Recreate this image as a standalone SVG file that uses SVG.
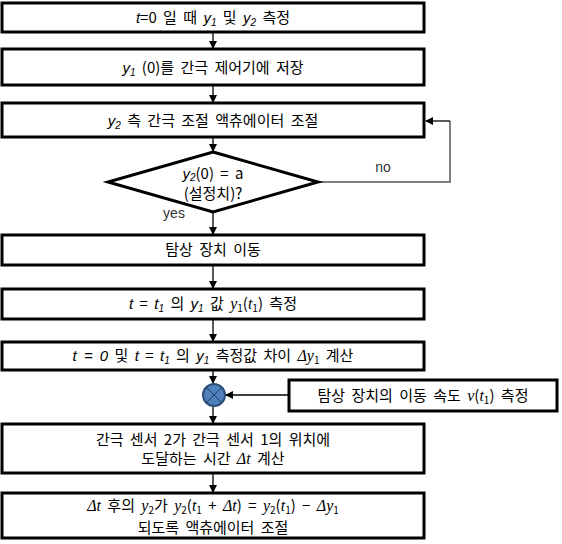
<svg xmlns="http://www.w3.org/2000/svg" width="562" height="544" viewBox="0 0 562 544">
<style>
.box{fill:#fff;stroke:#000;stroke-width:3}
.t{font-family:"Noto Sans CJK KR","Liberation Sans",sans-serif;font-size:15px;fill:#000;text-anchor:middle;word-spacing:3px}
.m{font-family:"Liberation Serif","DejaVu Serif",serif;font-style:italic;font-size:16px}
.mi{font-family:"Liberation Sans",sans-serif;font-style:italic}
.s{font-size:10px}
.c{fill:none;stroke:#000;stroke-width:1.3}
.lbl{font-family:"Liberation Sans",sans-serif;font-size:14px;fill:#333;text-anchor:middle}
</style>
<defs>
<marker id="ah" markerWidth="8" markerHeight="8" refX="7" refY="4" orient="auto" markerUnits="userSpaceOnUse">
<path d="M0,0 L8,4 L0,8 z" fill="#000"/>
</marker>
</defs>
<g id="connectors">
<line class="c" x1="213" y1="32" x2="213" y2="48" marker-end="url(#ah)"/>
<line class="c" x1="213" y1="85" x2="213" y2="102" marker-end="url(#ah)"/>
<line class="c" x1="213" y1="137" x2="213" y2="151" marker-end="url(#ah)"/>
<line class="c" x1="213" y1="212" x2="213" y2="234" marker-end="url(#ah)"/>
<line class="c" x1="213" y1="265" x2="213" y2="288" marker-end="url(#ah)"/>
<line class="c" x1="213" y1="319" x2="213" y2="341" marker-end="url(#ah)"/>
<line class="c" x1="213" y1="370" x2="213" y2="383" marker-end="url(#ah)"/>
<line class="c" x1="213" y1="407" x2="213" y2="423" marker-end="url(#ah)"/>
<line class="c" x1="213" y1="473" x2="213" y2="492" marker-end="url(#ah)"/>
<polyline points="318,182 450,182 450,121" fill="none" stroke="#555" stroke-width="1.5"/>
<line class="c" x1="450" y1="121" x2="426" y2="121" marker-end="url(#ah)"/>
<line class="c" x1="289" y1="395" x2="226" y2="395" marker-end="url(#ah)"/>
<text class="lbl" x="383" y="172">no</text>
<text class="lbl" x="174" y="218">yes</text>
</g>
<g id="n1">
<rect class="box" x="2" y="3" width="422" height="29"/>
<text class="t" x="213" y="23"><tspan class="mi">t</tspan>=0 일 때 <tspan class="mi">y</tspan><tspan class="mi s" baseline-shift="-3">1</tspan> 및 <tspan class="mi">y</tspan><tspan class="mi s" baseline-shift="-3">2</tspan> 측정</text>
</g>
<g id="n2">
<rect class="box" x="2" y="49" width="422" height="36"/>
<text class="t" x="213" y="73"><tspan class="mi">y</tspan><tspan class="mi s" baseline-shift="-3">1</tspan> (0)를 간극 제어기에 저장</text>
</g>
<g id="n3">
<rect class="box" x="2" y="103" width="422" height="34"/>
<text class="t" x="213" y="126"><tspan class="mi">y</tspan><tspan class="mi s" baseline-shift="-3">2</tspan>  측 간극 조절 액츄에이터 조절</text>
</g>
<g id="n4">
<polygon points="213,152 318,182 213,212 108,182" fill="#fff" stroke="#000" stroke-width="3"/>
<text class="t" x="213" y="179"><tspan class="mi">y</tspan><tspan class="mi s" baseline-shift="-2">2</tspan>(0) = a</text>
<text class="t" x="213" y="199">(설정치)?</text>
</g>
<g id="n5">
<rect class="box" x="2" y="235" width="422" height="30"/>
<text class="t" x="213" y="255">탐상 장치 이동</text>
</g>
<g id="n6">
<rect class="box" x="2" y="289" width="422" height="30"/>
<text class="t" x="213" y="309"><tspan class="mi">t</tspan> = <tspan class="mi">t</tspan><tspan class="mi s" baseline-shift="-3">1</tspan> 의 <tspan class="mi">y</tspan><tspan class="mi s" baseline-shift="-3">1</tspan> 값  <tspan class="m">y</tspan><tspan class="s" baseline-shift="-3">1</tspan>(<tspan class="m">t</tspan><tspan class="s" baseline-shift="-3">1</tspan>) 측정</text>
</g>
<g id="n7">
<rect class="box" x="2" y="342" width="422" height="28"/>
<text class="t" x="213" y="361"><tspan class="mi">t = 0</tspan> 및 <tspan class="mi">t</tspan> = <tspan class="mi">t</tspan><tspan class="mi s" baseline-shift="-3">1</tspan> 의 <tspan class="mi">y</tspan><tspan class="mi s" baseline-shift="-3">1</tspan> 측정값 차이 <tspan class="m">Δy</tspan><tspan class="s" baseline-shift="-3">1</tspan> 계산</text>
</g>
<g id="n8">
<circle cx="214" cy="395" r="11" fill="#4F81BD" stroke="#2C4D75" stroke-width="2"/>
<path d="M206.5,387.5 L221.5,402.5 M221.5,387.5 L206.5,402.5" stroke="#1F3A5F" stroke-width="1"/>
</g>
<g id="n9">
<rect class="box" x="289" y="380" width="268" height="31"/>
<text class="t" x="423" y="401">탐상 장치의 이동 속도 <tspan class="m">v</tspan>(<tspan class="m">t</tspan><tspan class="s" baseline-shift="-3">1</tspan>) 측정</text>
</g>
<g id="n10">
<rect class="box" x="2" y="424" width="422" height="49"/>
<text class="t" x="213" y="445">간극 센서 2가 간극 센서 1의 위치에</text>
<text class="t" x="213" y="464">도달하는 시간 <tspan class="m">Δt</tspan> 계산</text>
</g>
<g id="n11">
<rect class="box" x="2" y="493" width="422" height="45"/>
<text class="t" x="213" y="511"><tspan class="m">Δt</tspan> 후의 <tspan class="m">y</tspan><tspan class="s" baseline-shift="-3">2</tspan>가 <tspan class="m">y</tspan><tspan class="s" baseline-shift="-3">2</tspan>(<tspan class="m">t</tspan><tspan class="s" baseline-shift="-3">1</tspan> + <tspan class="m">Δt</tspan>) = <tspan class="m">y</tspan><tspan class="s" baseline-shift="-3">2</tspan>(<tspan class="m">t</tspan><tspan class="s" baseline-shift="-3">1</tspan>) − <tspan class="m">Δy</tspan><tspan class="s" baseline-shift="-3">1</tspan></text>
<text class="t" x="213" y="533">되도록 액츄에이터 조절</text>
</g>
</svg>
